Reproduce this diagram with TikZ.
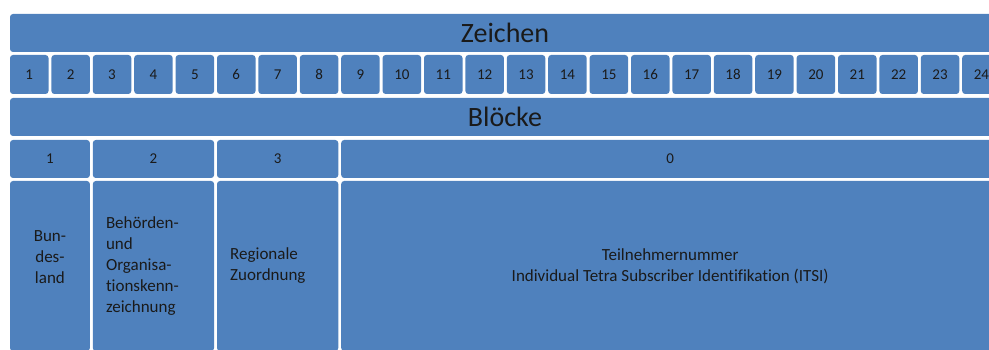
\documentclass[tikz,border=0pt]{standalone}
\usepackage{fontspec}
\setmainfont{Carlito}[Ligatures=NoCommon]
\usetikzlibrary{positioning}

\definecolor{barblue}{HTML}{4F81BD}
\definecolor{inkdark}{HTML}{1A1A1A}

\tikzset{
  bar/.style={fill=barblue, rounded corners=3pt, inner sep=0pt, outer sep=0pt, anchor=north west, text=inkdark},
  head/.style={bar, minimum width=990pt, minimum height=38pt, font=\fontsize{28}{32}\selectfont},
  cell/.style={bar, minimum width=38.5pt, minimum height=39pt, font=\fontsize{15}{18}\selectfont},
  blk/.style={bar, minimum height=38pt, font=\fontsize{15}{18}\selectfont},
  field/.style={bar, minimum height=170pt},
  txt/.style={inner sep=0pt, text=inkdark, font=\fontsize{17}{21}\selectfont}
}

\begin{document}
\begin{tikzpicture}[x=1pt, y=-1pt]
          \clip (0,0) rectangle (989,350);

          % Zeichen
          \node[head] (zeichen) at (10,14) {Zeichen};
          \node[cell] (c1) at (10,55) {1};
          \foreach \i [remember=\i as \j (initially 1)] in {2,...,24}
            \node[cell, right=2.9pt of c\j] (c\i) {\i};

          % Bloecke
          \node[head] (bloecke) at (10,98) {Blöcke};
          \node[blk, minimum width=79.9pt] (b1) at (10,140) {1};
          \node[blk, minimum width=121.3pt] (b2) at (92.8,140) {2};
          \node[blk, minimum width=121.3pt] (b3) at (217,140) {3};
          \node[blk, minimum width=658pt] (b0) at (341.2,140) {0};

          % Felder
          \node[field, minimum width=79.9pt] (land) at (10,181) {};
          \node[field, minimum width=121.3pt] (bos) at (92.8,181) {};
          \node[field, minimum width=121.3pt] (region) at (217,181) {};
          \node[field, minimum width=658pt] (itsi) at (341.2,181) {};

          \node[txt, align=center] at ([yshift=9pt]land.center) {Bun-\\des-\\land};
          \node[txt, align=left, anchor=west] at ([xshift=13pt]bos.west)
            {Behörden-\\und\\Organisa-\\tionskenn-\\zeichnung};
          \node[txt, align=left, anchor=west] at ([xshift=13pt]region.west)
            {Regionale\\Zuordnung};
          \node[txt, align=center] at (itsi.center)
            {Teilnehmernummer\\Individual Tetra Subscriber Identifikation (ITSI)};
        \end{tikzpicture}
\end{document}
